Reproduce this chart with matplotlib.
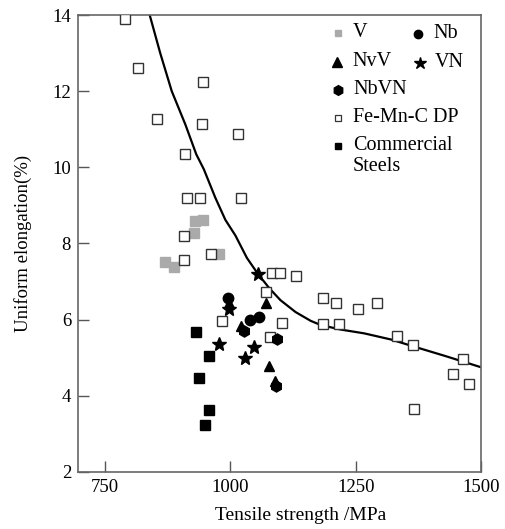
import matplotlib
matplotlib.use("Agg")
import matplotlib.pyplot as plt

plt.rcParams['font.family'] = ['Liberation Serif', 'DejaVu Serif']

# tensile strength (MPa), uniform elongation (%)
v_x = [929, 945, 928, 978, 870, 887]
v_y = [8.59, 8.61, 8.27, 7.72, 7.52, 7.39]

nb_x = [995, 1039, 1058]
nb_y = [6.57, 5.99, 6.06]

nvv_x = [997, 1071, 1022, 1078, 1089]
nvv_y = [6.45, 6.45, 5.83, 4.78, 4.40]

vn_x = [1055, 998, 977, 1048, 1029]
vn_y = [7.20, 6.28, 5.36, 5.27, 4.98]

nbvn_x = [1027, 1093, 1090]
nbvn_y = [5.70, 5.49, 4.26]

dp_x = [790, 815, 945, 853, 943, 1016, 909, 913, 940, 1021, 908, 962, 907,
        1083, 1099, 1130, 1072, 983, 1102, 1080,
        1185, 1211, 1255, 1293, 1184, 1217, 1333, 1364, 1465, 1444, 1477, 1367]
dp_y = [13.89, 12.62, 12.24, 11.26, 11.13, 10.87, 10.34, 9.2, 9.2, 9.2, 8.21, 7.72, 7.56,
        7.22, 7.22, 7.15, 6.72, 5.97, 5.90, 5.54,
        6.57, 6.45, 6.27, 6.45, 5.88, 5.88, 5.57, 5.33, 4.96, 4.58, 4.30, 3.66]

com_x = [932, 957, 938, 958, 949]
com_y = [5.67, 5.04, 4.46, 3.62, 3.24]

# trend line
fit_x = [839, 860, 883, 910, 932, 947, 970, 990, 1010, 1033, 1055, 1078, 1100,
         1130, 1160, 1180, 1220, 1267, 1320, 1367, 1430, 1500]
fit_y = [14.0, 13.0, 12.0, 11.13, 10.34, 9.95, 9.2, 8.62, 8.21, 7.62, 7.2, 6.82, 6.51,
         6.2, 5.97, 5.86, 5.74, 5.64, 5.48, 5.29, 5.04, 4.75]

fig = plt.figure(figsize=(5.05, 5.29), dpi=100)
ax = fig.add_axes([0.1545, 0.1078, 0.798, 0.8638])

ax.plot(fit_x, fit_y, color='black', lw=1.6, zorder=2)

ax.plot(v_x, v_y, 's', color='#aaaaaa', ms=6.5, mec='#aaaaaa', zorder=3)
ax.plot(dp_x, dp_y, 's', mfc='white', mec='#333333', mew=1.0, ms=6.5, zorder=3)
ax.plot(com_x, com_y, 's', color='black', ms=6.5, zorder=3)
ax.plot(nb_x, nb_y, 'o', color='black', ms=7.5, zorder=4)
ax.plot(nvv_x, nvv_y, '^', color='black', ms=7.5, zorder=4)
ax.plot(vn_x, vn_y, '*', color='black', ms=10.5, zorder=4)
ax.plot(nbvn_x, nbvn_y, 'h', color='black', ms=8, zorder=4)

ax.set_xlim(696, 1500)
ax.set_ylim(2, 14)
ax.set_xticks([750, 1000, 1250, 1500])
ax.set_yticks([2, 4, 6, 8, 10, 12, 14])
ax.tick_params(direction='in', length=8, width=1, color='#555555',
               labelsize=13.5, top=False, right=False, pad=5)
for s in ax.spines.values():
    s.set_color('#666666')
    s.set_linewidth(1.2)

ax.set_xlabel('Tensile strength /MPa', fontsize=14)
ax.set_ylabel('Uniform elongation(%)', fontsize=13.5)
ax.xaxis.set_label_coords(0.553, -0.077)
ax.yaxis.set_label_coords(-0.114, 0.5)

# legend drawn by hand (irregular layout)
def px(x, y):
    return (x - 78) / 403, (472 - y) / 457

tr = ax.transAxes
items = [
    (338, 33, 's', dict(color='#aaaaaa', ms=5), 'V'),
    (418, 34, 'o', dict(color='black', ms=6), 'Nb'),
    (337, 62, '^', dict(color='black', ms=6.5), 'NvV'),
    (420, 63, '*', dict(color='black', ms=9), 'VN'),
    (338, 90, 'h', dict(color='black', ms=7), 'NbVN'),
    (338, 118, 's', dict(mfc='white', mec='#333333', mew=0.9, ms=5), 'Fe-Mn-C DP'),
    (338, 146, 's', dict(color='black', ms=5), 'Commercial'),
]
for x0, y0, m, kw, lab in items:
    mx, my = px(x0, y0)
    ax.plot([mx], [my], m, transform=tr, clip_on=False, **kw)
    tx, ty = px(x0 + 15, y0 - 1)
    ax.text(tx, ty, lab, transform=tr, fontsize=14.5, va='center', ha='left')
tx, ty = px(353, 166)
ax.text(tx, ty, 'Steels', transform=tr, fontsize=14.5, va='center', ha='left')

fig.savefig('out.png', dpi=100)
